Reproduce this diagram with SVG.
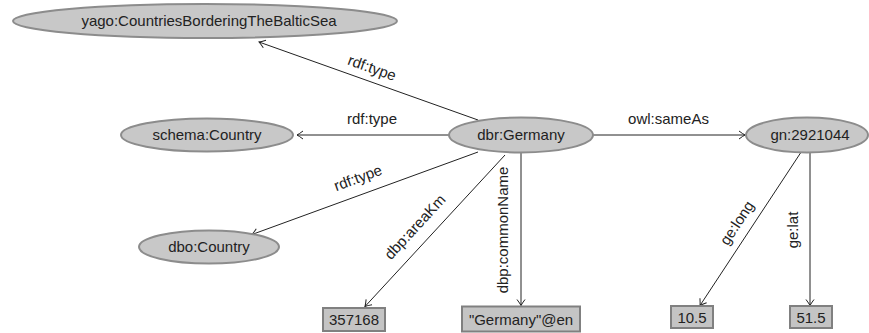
<svg xmlns="http://www.w3.org/2000/svg" width="869" height="333" viewBox="0 0 869 333">
  <defs>
    <style>
      .res { fill: #c8c8c8; stroke: #8c8c8c; stroke-width: 2; }
      .lit { fill: #c4c4c4; stroke: #808080; stroke-width: 2; }
      .lbl { font-family: "Liberation Sans", Arial, sans-serif; font-size: 15px; fill: #222; }
      .mid { text-anchor: middle; }
      .edge { stroke: #222; stroke-width: 1; fill: none; marker-end: url(#arrow); }
    </style>
    <marker id="arrow" markerUnits="userSpaceOnUse" viewBox="-8 -5 10 10" refX="0" refY="0" markerWidth="10" markerHeight="10" orient="auto">
      <path d="M-6,-4 Q-2,-1 0,0 Q-2,1 -6,4" fill="none" stroke="#222" stroke-width="1"/>
    </marker>
  </defs>

  <!-- connectors -->
  <g id="edges">
    <line class="edge" x1="478" y1="120" x2="259" y2="42"/>
    <text class="lbl mid" transform="translate(372,68) rotate(19.6)" dy="5">rdf:type</text>

    <line class="edge" x1="449" y1="135" x2="297" y2="135"/>
    <text class="lbl mid" x="372" y="124">rdf:type</text>

    <line class="edge" x1="478" y1="152" x2="252" y2="234.5"/>
    <text class="lbl mid" transform="translate(358,178) rotate(-20.1)" dy="5">rdf:type</text>

    <line class="edge" x1="505" y1="155" x2="365" y2="306.5"/>
    <text class="lbl mid" transform="translate(415,227) rotate(-47.3)" dy="5">dbp:areaKm</text>

    <line class="edge" x1="521" y1="153" x2="521" y2="305.5"/>
    <text class="lbl mid" transform="translate(503,230) rotate(-90)" dy="5">dbp:commonName</text>

    <line class="edge" x1="593" y1="135" x2="745" y2="135"/>
    <text class="lbl mid" x="668.5" y="124">owl:sameAs</text>

    <line class="edge" x1="800.5" y1="153" x2="700" y2="305.5"/>
    <text class="lbl mid" transform="translate(737,223) rotate(-56.6)" dy="5">ge:long</text>

    <line class="edge" x1="810" y1="153" x2="810" y2="305.5"/>
    <text class="lbl mid" transform="translate(793,230) rotate(-90)" dy="5">ge:lat</text>
  </g>

  <!-- resource nodes -->
  <g id="yago-baltic">
    <ellipse class="res" cx="205" cy="21" rx="192" ry="17"/>
    <text class="lbl mid" x="209" y="26">yago:CountriesBorderingTheBalticSea</text>
  </g>
  <g id="schema-country">
    <ellipse class="res" cx="207" cy="135" rx="86" ry="16.5"/>
    <text class="lbl mid" x="207" y="140">schema:Country</text>
  </g>
  <g id="dbr-germany">
    <ellipse class="res" cx="521" cy="135" rx="72" ry="17.5"/>
    <text class="lbl mid" x="521" y="140">dbr:Germany</text>
  </g>
  <g id="gn-2921044">
    <ellipse class="res" cx="807" cy="135" rx="61" ry="17.5"/>
    <text class="lbl mid" x="810" y="140">gn:2921044</text>
  </g>
  <g id="dbo-country">
    <ellipse class="res" cx="209" cy="247" rx="70" ry="16.5"/>
    <text class="lbl mid" x="209" y="252">dbo:Country</text>
  </g>

  <!-- literal nodes -->
  <g id="area-km">
    <rect class="lit" x="323" y="308" width="62" height="23"/>
    <text class="lbl mid" x="354" y="325">357168</text>
  </g>
  <g id="common-name">
    <rect class="lit" x="462" y="306.5" width="118" height="25"/>
    <text class="lbl mid" x="521" y="324.5">"Germany"@en</text>
  </g>
  <g id="long">
    <rect class="lit" x="671" y="306" width="42" height="22"/>
    <text class="lbl mid" x="692" y="322.5">10.5</text>
  </g>
  <g id="lat">
    <rect class="lit" x="790" y="306" width="42" height="22"/>
    <text class="lbl mid" x="811" y="322.5">51.5</text>
  </g>
</svg>
